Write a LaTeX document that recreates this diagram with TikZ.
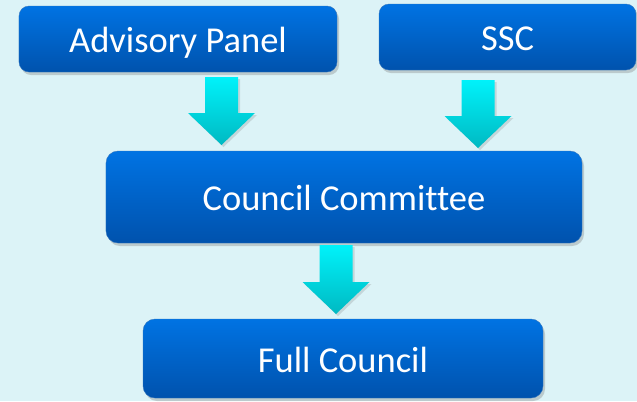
\documentclass[tikz,border=0pt]{standalone}
\usepackage{fontspec}
\setmainfont{Carlito}[Ligatures=NoCommon]
\usetikzlibrary{shadows,calc}
\definecolor{bgc}{HTML}{DCF3F7}
\definecolor{boxtop}{HTML}{0073E3}
\definecolor{boxbot}{HTML}{0052AD}
\definecolor{arrtop}{HTML}{00F2FA}
\definecolor{arrbot}{HTML}{00B9C2}
\tikzset{
  flowbox/.style={rectangle, rounded corners=10bp, top color=boxtop, bottom color=boxbot,
    draw=boxbot!80!white, line width=0.4bp, text=white, align=center,
    font=\fontsize{36.5bp}{40bp}\selectfont, text height=27bp, text depth=0bp, inner sep=0bp,
    drop shadow={opacity=0.35, shadow xshift=2bp, shadow yshift=-3bp}},
  fatarrow/.style={top color=arrtop, bottom color=arrbot, draw=none,
    drop shadow={opacity=0.25, shadow xshift=2bp, shadow yshift=-2bp}}
}
\newcommand\fatarrowdraw[2]{%
  \path[fatarrow] let \p1=(#1), \p2=(#2) in
    (\x1-16.5bp,\y1) -- (\x1+16.5bp,\y1) -- (\x1+16.5bp,\y2+32bp) -- (\x1+33.5bp,\y2+32bp)
    -- (\x2,\y2) -- (\x1-33.5bp,\y2+32bp) -- (\x1-16.5bp,\y2+32bp) -- cycle;}
\begin{document}
\begin{tikzpicture}[x=1bp,y=-1bp]
\fill[bgc] (0,0) rectangle (637,401);
\useasboundingbox (0,0) rectangle (637,401);
\node[flowbox, minimum width=318bp, minimum height=66bp] (ap) at (178,39) {Advisory Panel};
\node[flowbox, minimum width=257bp, minimum height=66bp] (ssc) at (507.5,37) {SSC};
\node[flowbox, rounded corners=12bp, minimum width=476bp, minimum height=92bp] (cc) at (344,197) {Council Committee};
\node[flowbox, rounded corners=12bp, minimum width=400bp, minimum height=79bp] (fc) at (343,358.5) {Full Council};
\coordinate (a1s) at (221.5,77);
\coordinate (a1e) at (221.5,145);
\coordinate (a2s) at (478,80);
\coordinate (a2e) at (478,148);
\coordinate (a3s) at (336,245);
\coordinate (a3e) at (336,314);
\fatarrowdraw{a1s}{a1e}
\fatarrowdraw{a2s}{a2e}
\fatarrowdraw{a3s}{a3e}
\end{tikzpicture}
\end{document}
